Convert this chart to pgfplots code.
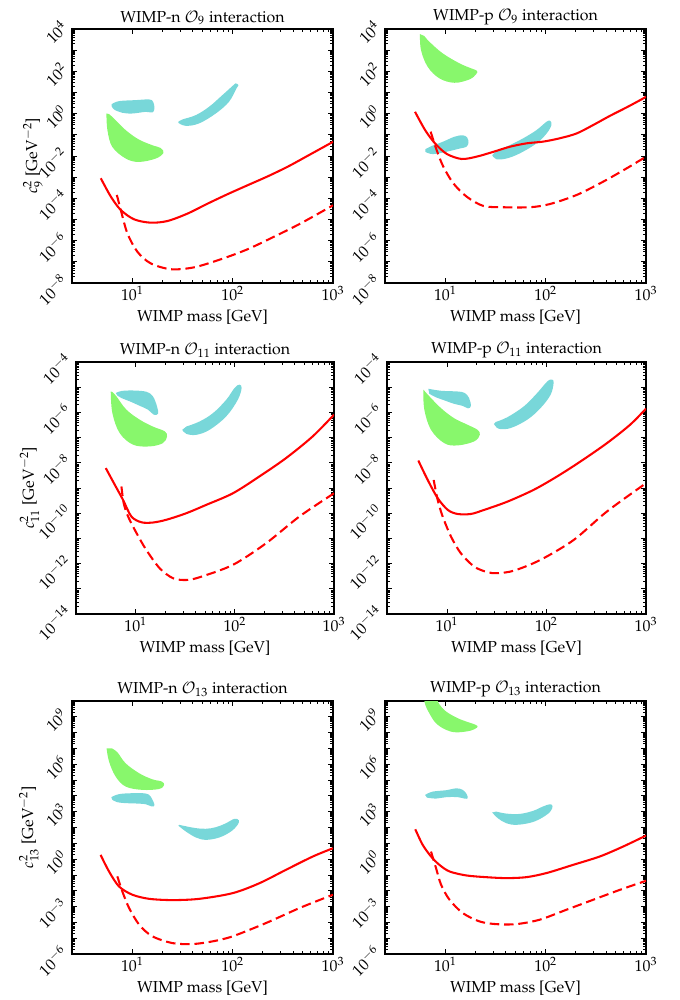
\documentclass[border=0pt]{standalone}
\usepackage[T1]{fontenc}
\usepackage{mathpazo}
\usepackage{pgfplots}
\pgfplotsset{compat=1.18}

\definecolor{limred}{RGB}{255,0,0}
\definecolor{blobgreen}{RGB}{136,247,108}
\definecolor{blobcyan}{RGB}{120,215,217}

% common settings of the six panels
\pgfplotsset{
  scale only axis,
  xmin=2.5, xmax=1000,
  xtick={10,100,1000},
  xlabel={WIMP mass [GeV]},
  tick align=inside,
  major tick length=3pt,
  minor tick length=1.6pt,
  every tick/.append style={black, line width=0.5pt},
  axis line style={line width=0.8pt},
  yticklabel style={rotate=45, anchor=south east, inner sep=1pt},
  xticklabel style={inner sep=2pt},
  title style={yshift=-7pt},
}

\begin{document}
\begin{tikzpicture}
\useasboundingbox (0,0) rectangle (428.4pt,-630pt);

% ---------------- O9, neutron ----------------
\begin{loglogaxis}[at={(45.36pt,-18.27pt)}, anchor=north west,
  width=164.43pt, height=160.02pt,
  ymin=1e-8, ymax=1e4,
  ytick={1e-8,1e-7,1e-6,1e-5,1e-4,1e-3,1e-2,1e-1,1,10,100,1000,10000},
  yticklabels={$10^{-8}$,,$10^{-6}$,,$10^{-4}$,,$10^{-2}$,,$10^{0}$,,$10^{2}$,,$10^{4}$},
  title={WIMP-n $\mathcal{O}_9$ interaction},
  ylabel={$c_9^2$ [GeV$^{-2}$]},
  ylabel style={at={(axis description cs:-0.15,0.5)}, anchor=center}]
\addplot[draw=none, fill=blobcyan, smooth, tension=0.6, mark=none] coordinates {(6.22,2.82) (7.36,3.92) (10.8,4.37) (14.7,4.70) (16.1,3.64) (16.6,1.76) (15.8,1.14) (13.6,1.22) (10,1.02) (7.94,1.10) (6.56,1.58) (6.22,2.27)} --cycle;
\addplot[draw=none, fill=blobcyan, smooth, tension=0.6, mark=none] coordinates {(28.7,0.370) (34.0,0.267) (46.1,0.344) (67.8,1.02) (91.8,3.64) (109,15.6) (114,22.4) (107,26.9) (99.3,20.1) (78.9,7.53) (58.1,2.11) (42.8,0.851) (31.5,0.532) (28.7,0.412)} --cycle;
\addplot[draw=none, fill=blobgreen, smooth, tension=0.6, mark=none] coordinates {(5.51,1.02) (5.64,0.166) (6.31,2.69e-2) (8.59,7.59e-3) (11.6,5.25e-3) (17.1,7.59e-3) (20.4,1.41e-2) (19.1,2.40e-2) (15.8,3.24e-2) (11.6,6.03e-2) (8.59,0.166) (6.56,0.589) (5.85,0.955)} --cycle;
\addplot[limred, line width=1.3pt, smooth, tension=0.5, mark=none] coordinates {(4.84,8.91e-4) (6.10,1.20e-4) (7.66,2.82e-5) (10.4,1.02e-5) (15.2,7.08e-6) (22.4,8.51e-6) (35.5,1.91e-5) (56.2,5.62e-5) (89.1,1.58e-4) (141,4.17e-4) (224,1.10e-3) (355,3.16e-3) (575,1.10e-2) (1000,4.68e-2)};
\addplot[limred, line width=1.3pt, smooth, tension=0.5, mark=none, dash pattern=on 6pt off 3pt] coordinates {(7.00,1.45e-4) (7.66,2.82e-5) (8.91,2.24e-6) (11.2,3.02e-7) (15.2,8.51e-8) (24.2,4.47e-8) (41.2,5.50e-8) (76.0,1.32e-7) (140,3.89e-7) (259,1.55e-6) (478,6.61e-6) (1000,4.68e-5)};
\end{loglogaxis}

% ---------------- O9, proton ----------------
\begin{loglogaxis}[at={(242.55pt,-18.27pt)}, anchor=north west,
  width=164.43pt, height=160.02pt,
  ymin=1e-8, ymax=1e4,
  ytick={1e-8,1e-7,1e-6,1e-5,1e-4,1e-3,1e-2,1e-1,1,10,100,1000,10000},
  yticklabels={$10^{-8}$,,$10^{-6}$,,$10^{-4}$,,$10^{-2}$,,$10^{0}$,,$10^{2}$,,$10^{4}$},
  title={WIMP-p $\mathcal{O}_9$ interaction}]
\addplot[draw=none, fill=blobcyan, smooth, tension=0.6, mark=none] coordinates {(6.31,1.58e-2) (7.46,1.23e-2) (10.2,1.58e-2) (13.8,2.24e-2) (16.1,2.69e-2) (17.0,4.17e-2) (16.5,7.41e-2) (14.9,9.55e-2) (12.3,8.13e-2) (9.40,4.68e-2) (7.19,2.88e-2) (6.31,2.09e-2)} --cycle;
\addplot[draw=none, fill=blobcyan, smooth, tension=0.6, mark=none] coordinates {(29.3,1.10e-2) (32.1,7.08e-3) (40.5,7.59e-3) (55.0,1.32e-2) (80.7,3.89e-2) (102,0.115) (114,0.288) (111,0.457) (102,0.417) (80.7,0.166) (59.3,6.76e-2) (43.7,3.24e-2) (32.1,1.74e-2)} --cycle;
\addplot[draw=none, fill=blobgreen, smooth, tension=0.6, mark=none] coordinates {(5.58,5754) (5.71,1023) (6.65,166) (8.71,46.8) (12.3,28.8) (17.4,41.7) (20.3,74.1) (20.6,107) (18.1,138) (13.8,240) (9.40,708) (6.92,2512) (6.17,4677)} --cycle;
\addplot[limred, line width=1.3pt, smooth, tension=0.5, mark=none] coordinates {(4.98,1.23) (6.27,0.170) (7.87,3.98e-2) (10.3,1.26e-2) (14.5,7.24e-3) (20.5,9.33e-3) (30.1,1.58e-2) (44.1,2.75e-2) (64.7,3.98e-2) (94.6,4.79e-2) (139,6.92e-2) (204,0.117) (299,0.295) (438,0.794) (643,2.00) (906,4.79) (1000,6.31)};
\addplot[limred, line width=1.3pt, smooth, tension=0.5, mark=none, dash pattern=on 6pt off 3pt] coordinates {(7.13,0.141) (8.18,1.91e-2) (9.53,3.16e-3) (12.0,5.13e-4) (16.3,1.20e-4) (23.9,4.37e-5) (37.8,3.80e-5) (69.7,3.80e-5) (110,5.37e-5) (204,1.45e-4) (375,6.17e-4) (643,2.63e-3) (1000,9.33e-3)};
\end{loglogaxis}

% ---------------- O11, neutron ----------------
\begin{loglogaxis}[at={(47.88pt,-228.06pt)}, anchor=north west,
  width=162.54pt, height=158.76pt,
  ymin=1e-14, ymax=1e-4,
  ytick={1e-14,1e-13,1e-12,1e-11,1e-10,1e-9,1e-8,1e-7,1e-6,1e-5,1e-4},
  yticklabels={$10^{-14}$,,$10^{-12}$,,$10^{-10}$,,$10^{-8}$,,$10^{-6}$,,$10^{-4}$},
  title={WIMP-n $\mathcal{O}_{11}$ interaction},
  ylabel={$c_{11}^2$ [GeV$^{-2}$]},
  ylabel style={at={(axis description cs:-0.18,0.5)}, anchor=center}]
\addplot[draw=none, fill=blobcyan, smooth, tension=0.6, mark=none] coordinates {(6.30,5.89e-6) (7.18,7.08e-6) (9.40,7.41e-6) (12.8,6.61e-6) (14.9,4.37e-6) (16.4,1.74e-6) (16.8,8.91e-7) (15.2,8.13e-7) (13.3,1.29e-6) (11.0,1.82e-6) (8.71,2.75e-6) (7.18,3.72e-6) (6.49,4.79e-6)} --cycle;
\addplot[draw=none, fill=blobcyan, smooth, tension=0.6, mark=none] coordinates {(29.5,2.04e-7) (32.4,1.41e-7) (40.8,1.29e-7) (55.6,2.04e-7) (81.8,6.92e-7) (107,3.16e-6) (117,9.33e-6) (111,1.26e-5) (99.3,9.33e-6) (81.8,3.16e-6) (60.1,9.33e-7) (44.1,4.37e-7) (32.4,2.75e-7)} --cycle;
\addplot[draw=none, fill=blobgreen, smooth, tension=0.6, mark=none] coordinates {(5.60,6.76e-6) (5.82,9.33e-7) (6.90,1.51e-7) (9.40,5.25e-8) (13.8,4.47e-8) (18.8,6.03e-8) (20.7,1.12e-7) (19.6,1.78e-7) (14.9,2.75e-7) (11.0,5.13e-7) (8.05,1.29e-6) (6.38,4.37e-6) (5.82,6.46e-6)} --cycle;
\addplot[limred, line width=1.3pt, smooth, tension=0.5, mark=none] coordinates {(4.99,6.17e-9) (6.15,1.35e-9) (7.45,3.39e-10) (9.04,7.41e-11) (11.4,4.37e-11) (14.9,4.27e-11) (20.4,5.50e-11) (32.4,1.0e-10) (51.4,2.14e-10) (95.5,6.17e-10) (177,2.88e-9) (329,1.55e-8) (610,1.12e-7) (1000,8.13e-7)};
\addplot[limred, line width=1.3pt, smooth, tension=0.5, mark=none, dash pattern=on 6pt off 3pt] coordinates {(7.18,1.15e-9) (7.57,2.51e-10) (8.38,7.41e-11) (10.2,1.62e-11) (12.8,3.47e-12) (17.5,6.46e-13) (23.8,2.63e-13) (32.4,2.24e-13) (44.1,2.88e-13) (95.5,8.91e-13) (207,6.46e-12) (448,7.41e-11) (1000,6.17e-10)};
\end{loglogaxis}

% ---------------- O11, proton ----------------
\begin{loglogaxis}[at={(243.81pt,-228.06pt)}, anchor=north west,
  width=163.17pt, height=158.76pt,
  ymin=1e-14, ymax=1e-4,
  ytick={1e-14,1e-13,1e-12,1e-11,1e-10,1e-9,1e-8,1e-7,1e-6,1e-5,1e-4},
  yticklabels={$10^{-14}$,,$10^{-12}$,,$10^{-10}$,,$10^{-8}$,,$10^{-6}$,,$10^{-4}$},
  title={WIMP-p $\mathcal{O}_{11}$ interaction}]
\addplot[draw=none, fill=blobcyan, smooth, tension=0.6, mark=none] coordinates {(6.50,8.71e-6) (8.71,7.24e-6) (12.8,6.76e-6) (15.1,5.89e-6) (16.7,3.72e-6) (17.4,1.82e-6) (16.3,1.45e-6) (14.4,1.82e-6) (11.8,2.19e-6) (9.40,3.02e-6) (7.76,3.98e-6) (6.65,5.50e-6)} --cycle;
\addplot[draw=none, fill=blobcyan, smooth, tension=0.6, mark=none] coordinates {(29.7,3.47e-7) (33.3,2.24e-7) (43.7,2.40e-7) (64.1,5.13e-7) (87.1,1.48e-6) (110,5.01e-6) (118,1.48e-5) (114,2.00e-5) (102,1.70e-5) (80.7,5.89e-6) (59.3,1.74e-6) (40.5,6.46e-7) (30.9,4.17e-7)} --cycle;
\addplot[draw=none, fill=blobgreen, smooth, tension=0.6, mark=none] coordinates {(5.79,7.94e-6) (5.93,1.29e-6) (6.92,2.04e-7) (9.40,6.03e-8) (12.8,4.90e-8) (18.8,7.08e-8) (21.4,1.29e-7) (20.3,2.04e-7) (16.1,3.24e-7) (11.8,5.89e-7) (8.71,1.48e-6) (6.65,4.37e-6) (5.93,7.24e-6)} --cycle;
\addplot[limred, line width=1.3pt, smooth, tension=0.5, mark=none] coordinates {(5.16,1.23e-8) (6.41,2.09e-9) (8.07,3.98e-10) (10.2,1.35e-10) (12.8,9.33e-11) (17.4,9.33e-11) (23.6,1.35e-10) (40.5,2.88e-10) (74.6,8.51e-10) (128,2.88e-9) (219,1.12e-8) (405,6.03e-8) (692,3.24e-7) (1000,1.41e-6)};
\addplot[limred, line width=1.3pt, smooth, tension=0.5, mark=none, dash pattern=on 6pt off 3pt] coordinates {(7.36,2.09e-9) (8.07,3.39e-10) (9.06,7.41e-11) (11.0,1.17e-11) (13.8,2.57e-12) (18.8,7.59e-13) (25.5,4.57e-13) (32.1,4.17e-13) (47.1,5.25e-13) (87.1,1.41e-12) (188,8.71e-12) (405,1.17e-10) (1000,1.55e-9)};
\end{loglogaxis}

% ---------------- O13, neutron ----------------
\begin{loglogaxis}[at={(45.36pt,-441.63pt)}, anchor=north west,
  width=164.43pt, height=159.39pt,
  ymin=1e-6, ymax=1e10,
  ytick={1e-6,1e-5,1e-4,1e-3,1e-2,1e-1,1,10,100,1e3,1e4,1e5,1e6,1e7,1e8,1e9,1e10},
  yticklabels={$10^{-6}$,,,$10^{-3}$,,,$10^{0}$,,,$10^{3}$,,,$10^{6}$,,,$10^{9}$,},
  title={WIMP-n $\mathcal{O}_{13}$ interaction},
  ylabel={$c_{13}^2$ [GeV$^{-2}$]},
  ylabel style={at={(axis description cs:-0.165,0.5)}, anchor=center}]
\addplot[draw=none, fill=blobcyan, smooth, tension=0.6, mark=none] coordinates {(6.17,8.32e3) (7.36,1.29e4) (10,1.48e4) (13.6,1.41e4) (15.2,9.12e3) (16.6,2.69e3) (15.6,2.14e3) (13.6,2.95e3) (10.8,3.31e3) (8.57,3.47e3) (7.08,3.98e3) (6.31,5.62e3)} --cycle;
\addplot[draw=none, fill=blobcyan, smooth, tension=0.6, mark=none] coordinates {(28.8,129) (34.1,56.2) (43.0,23.4) (54.1,16.6) (73.6,23.4) (96.2,56.2) (112,148) (115,288) (104,355) (85.7,186) (68.1,105) (54.1,83.2) (43.0,91.2) (34.1,120) (29.3,148)} --cycle;
\addplot[draw=none, fill=blobgreen, smooth, tension=0.6, mark=none] coordinates {(5.53,1.02e7) (5.85,1.48e6) (6.81,1.66e5) (8.57,3.89e4) (12.6,2.40e4) (18.5,2.75e4) (20.7,4.90e4) (19.6,8.13e4) (15.8,1.12e5) (11.7,2.69e5) (8.57,1.15e6) (7.08,5.75e6) (6.21,1.02e7)} --cycle;
\addplot[limred, line width=1.3pt, smooth, tension=0.5, mark=none] coordinates {(4.82,1.86) (5.85,0.166) (7.36,1.86e-2) (10,5.62e-3) (14.7,3.09e-3) (25.1,2.57e-3) (46.5,3.09e-3) (100,7.08e-3) (185,3.02e-2) (341,0.214) (631,1.48) (1000,4.90)};
\addplot[limred, line width=1.3pt, smooth, tension=0.5, mark=none, dash pattern=on 6pt off 3pt] coordinates {(7.08,8.13e-2) (7.94,9.12e-3) (9.27,8.13e-4) (11.7,7.08e-5) (15.8,1.32e-5) (25.1,4.90e-6) (39.8,4.27e-6) (63.1,6.31e-6) (100,1.32e-5) (215,9.12e-5) (465,8.13e-4) (1000,5.62e-3)};
\end{loglogaxis}

% ---------------- O13, proton ----------------
\begin{loglogaxis}[at={(242.55pt,-441.63pt)}, anchor=north west,
  width=164.43pt, height=159.39pt,
  ymin=1e-6, ymax=1e10,
  ytick={1e-6,1e-5,1e-4,1e-3,1e-2,1e-1,1,10,100,1e3,1e4,1e5,1e6,1e7,1e8,1e9,1e10},
  yticklabels={$10^{-6}$,,,$10^{-3}$,,,$10^{0}$,,,$10^{3}$,,,$10^{6}$,,,$10^{9}$,},
  title={WIMP-p $\mathcal{O}_{13}$ interaction}]
\addplot[draw=none, fill=blobcyan, smooth, tension=0.6, mark=none] coordinates {(6.27,1.15e4) (7.46,1.86e4) (10.2,2.29e4) (12.8,3.02e4) (14.9,2.40e4) (16.3,1.29e4) (16.7,7.08e3) (15.5,6.76e3) (13.3,8.32e3) (10.2,8.32e3) (8.07,6.76e3) (6.56,7.76e3)} --cycle;
\addplot[draw=none, fill=blobcyan, smooth, tension=0.6, mark=none] coordinates {(29.3,891) (33.3,389) (40.5,186) (50.9,148) (69.2,195) (87.1,339) (110,933) (117,2239) (110,2951) (94.0,2138) (74.6,1122) (55.0,724) (40.5,759) (32.1,1023)} --cycle;
\addplot[draw=none, fill=blobgreen, smooth, tension=0.6, mark=none] coordinates {(6.07,1.86e10) (6.31,5.62e9) (6.92,1.66e9) (8.07,3.89e8) (10.2,1.48e8) (12.8,1.05e8) (17.4,1.29e8) (20.7,2.09e8) (20.3,3.02e8) (17.4,4.27e8) (13.3,8.13e8) (10.2,2.14e9) (8.71,6.17e9) (8.07,1.86e10)} --cycle;
\addplot[limred, line width=1.3pt, smooth, tension=0.5, mark=none] coordinates {(5.01,77.6) (5.93,8.13) (7.19,1.48) (8.71,0.437) (11.0,0.166) (16.1,9.33e-2) (25.5,7.24e-2) (40.5,6.31e-2) (64.1,7.24e-2) (102,0.132) (188,0.437) (347,1.48) (593,6.31) (1000,30.9)};
\addplot[limred, line width=1.3pt, smooth, tension=0.5, mark=none, dash pattern=on 6pt off 3pt] coordinates {(7.19,3.02) (8.07,0.269) (9.06,2.40e-2) (11.0,2.69e-3) (14.9,3.89e-4) (21.9,1.15e-4) (32.1,7.76e-5) (50.9,7.76e-5) (87.1,1.48e-4) (161,6.31e-4) (297,2.69e-3) (550,1.15e-2) (1000,4.27e-2)};
\end{loglogaxis}
\end{tikzpicture}
\end{document}
